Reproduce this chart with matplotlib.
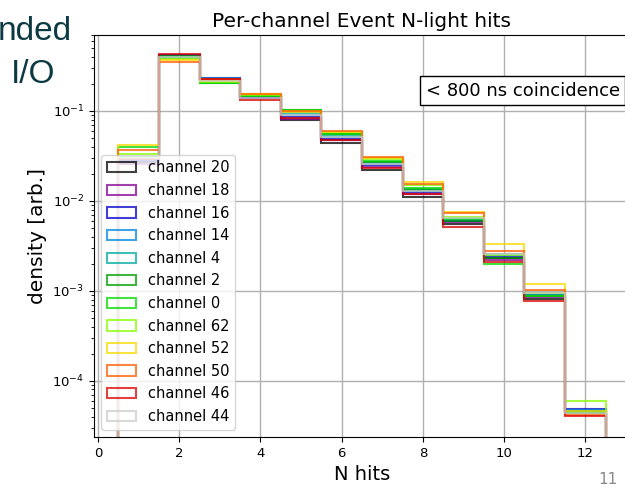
import numpy as np
import matplotlib
matplotlib.use("Agg")
from matplotlib import pyplot as plt

# bin edges of N hits
edges = np.arange(0.5, 13.5, 1.0)
nhits = np.arange(1, 13)

channels = ["channel 20", "channel 18", "channel 16", "channel 14", "channel 4",
            "channel 2", "channel 0", "channel 62", "channel 52", "channel 50",
            "channel 46", "channel 44"]

# density per bin (N hits = 1..12)
ch20 = [0.027, 0.41, 0.220, 0.138, 0.079, 0.044, 0.022, 0.0111, 0.0055, 0.0023, 0.00082, 4.5e-5]
ch18 = [0.026, 0.42, 0.222, 0.140, 0.082, 0.047, 0.024, 0.0120, 0.0058, 0.0022, 0.00085, 4.6e-5]
ch16 = [0.028, 0.42, 0.232, 0.142, 0.086, 0.049, 0.025, 0.0125, 0.0060, 0.0024, 0.00092, 4.8e-5]
ch14 = [0.029, 0.40, 0.233, 0.145, 0.090, 0.051, 0.026, 0.0130, 0.0062, 0.0025, 0.00094, 4.7e-5]
ch4 = [0.030, 0.39, 0.210, 0.147, 0.095, 0.053, 0.027, 0.0135, 0.0064, 0.0026, 0.00090, 4.6e-5]
ch2 = [0.031, 0.41, 0.205, 0.146, 0.103, 0.055, 0.027, 0.0132, 0.0060, 0.0023, 0.00087, 4.4e-5]
ch0 = [0.040, 0.40, 0.207, 0.148, 0.102, 0.056, 0.028, 0.0140, 0.0063, 0.0020, 0.00088, 4.5e-5]
ch62 = [0.033, 0.38, 0.212, 0.150, 0.100, 0.058, 0.029, 0.0150, 0.0066, 0.0025, 0.00095, 6.0e-5]
ch52 = [0.042, 0.37, 0.218, 0.155, 0.098, 0.059, 0.030, 0.0163, 0.0075, 0.0033, 0.00118, 4.6e-5]
ch50 = [0.037, 0.35, 0.225, 0.153, 0.100, 0.060, 0.031, 0.0155, 0.0073, 0.0028, 0.00103, 4.2e-5]
ch46 = [0.029, 0.43, 0.226, 0.132, 0.083, 0.048, 0.023, 0.0118, 0.0051, 0.0021, 0.00078, 4.1e-5]
ch44 = [0.030, 0.40, 0.215, 0.140, 0.090, 0.052, 0.026, 0.0130, 0.0065, 0.0026, 0.00095, 4.4e-5]

series = [ch20, ch18, ch16, ch14, ch4, ch2, ch0, ch62, ch52, ch50, ch46, ch44]
colors = plt.cm.nipy_spectral(np.linspace(0, 1, len(series)))

fig = plt.figure(figsize=(6.25, 4.87), dpi=100)
ax = fig.add_axes([94/625, 50/487, 536/625, 402/487])

for vals, lab, c in zip(series, channels, colors):
    ax.hist(nhits, bins=edges, weights=vals, histtype='step',
            color=c, lw=1.5, alpha=0.75, label=lab)

ax.set_yscale('log')
ax.set_xlim(-0.1, 13.1)
ax.set_ylim(2.37e-5, 0.70)
ax.set_xticks([0, 2, 4, 6, 8, 10, 12])
ax.grid(True, which='major', color='#b0b0b0', lw=1)
ax.tick_params(labelsize=9.5)

ax.set_title('Per-channel Event N-light hits', fontsize=14.5)
ax.set_xlabel('N hits', fontsize=14)
ax.set_ylabel('density [arb.]', fontsize=14.5)

ax.legend(loc='lower left', fontsize=10.5, labelspacing=0.52, borderaxespad=0.5)

ax.text(0.981, 0.861, '< 800 ns coincidence', transform=ax.transAxes,
        ha='right', va='center', fontsize=13,
        bbox=dict(facecolor='white', edgecolor='black', boxstyle='square,pad=0.3'))

# slide text around the figure
fig.text(72/625, 1 - 40/487, 'nded', ha='right', va='baseline', fontsize=24,
         color='#0b3a44', family='Liberation Sans')
fig.text(33/625, 1 - 83/487, 'I/O', ha='center', va='baseline', fontsize=24,
         color='#0b3a44', family='Liberation Sans')
fig.text(608/625, 1 - 484/487, '11', ha='center', va='baseline', fontsize=11,
         color='#8a8a8a')

fig.savefig('out.png', dpi=100)
